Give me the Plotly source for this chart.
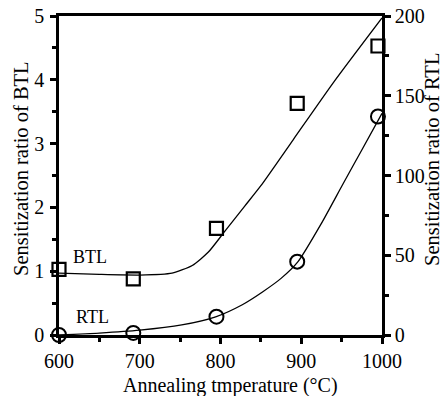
import plotly.graph_objects as go

# Measured data points
temp_btl = [600, 692, 795, 895, 995]
btl = [1.03, 0.88, 1.67, 3.63, 4.53]
temp_rtl = [600, 692, 795, 895, 995]
rtl = [0.0, 1.3, 11.5, 46, 137]

# Fitted curves
curve_btl_t = [600, 650, 700, 740, 765, 785, 805, 830, 850, 890, 940, 1000]
curve_btl_v = [0.97, 0.95, 0.94, 0.97, 1.09, 1.3, 1.62, 2.02, 2.34, 3.06, 3.96, 4.97]
curve_rtl_t = [600, 650, 700, 752, 794, 827, 852, 875, 896, 925, 952, 975, 1000]
curve_rtl_v = [0.0, 1.2, 3.0, 6.3, 11.4, 19, 27, 35.5, 46, 70, 95, 116, 139]

x_ticks = [600, 700, 800, 900, 1000]
y_ticks = [0, 1, 2, 3, 4, 5]
y2_ticks = [0, 50, 100, 150, 200]

FONT = "Liberation Serif"
W, H = 447, 396
ML, MR, MT, MB = 59, 65, 16, 61

fig = go.Figure()
fig.add_trace(go.Scatter(x=curve_btl_t, y=curve_btl_v, mode="lines",
                         line=dict(color="black", width=1.3, shape="spline", smoothing=0.6),
                         showlegend=False, hoverinfo="skip", cliponaxis=False))
fig.add_trace(go.Scatter(x=curve_rtl_t, y=curve_rtl_v, mode="lines", yaxis="y2",
                         line=dict(color="black", width=1.3, shape="spline", smoothing=0.6),
                         showlegend=False, hoverinfo="skip", cliponaxis=False))
fig.add_trace(go.Scatter(x=temp_btl, y=btl, mode="markers",
                         marker=dict(symbol="square-open", size=13, color="black",
                                     line=dict(width=2.2, color="black")),
                         showlegend=False, cliponaxis=False))
fig.add_trace(go.Scatter(x=temp_rtl, y=rtl, mode="markers", yaxis="y2",
                         marker=dict(symbol="circle-open", size=14, color="black",
                                     line=dict(width=2, color="black")),
                         showlegend=False, cliponaxis=False))

axis_common = dict(showgrid=False, zeroline=False, showline=True, linecolor="black",
                   linewidth=2.5, ticks="outside", tickcolor="black", tickwidth=2.5,
                   ticklen=6, tickfont=dict(family=FONT, size=20, color="black"),
                   automargin=False)

def px_x(px):
    return (px - ML) / (W - ML - MR)

def px_y(py):
    return (H - MB - py) / (H - MT - MB)

fig.update_layout(
    width=W, height=H,
    margin=dict(l=ML, r=MR, t=MT, b=MB),
    paper_bgcolor="white", plot_bgcolor="white",
    font=dict(family=FONT, color="black"),
    xaxis=dict(range=[600, 1000], tickvals=x_ticks, ticktext=[str(v) for v in x_ticks],
               mirror=True, ticklabelstandoff=0,
               minor=dict(dtick=50, ticks="outside", ticklen=4, tickwidth=2.5, tickcolor="black"),
               **axis_common),
    yaxis=dict(range=[0, 5], tickvals=y_ticks, ticktext=[str(v) for v in y_ticks],
               minor=dict(dtick=0.5, ticks="outside", ticklen=4, tickwidth=2.5, tickcolor="black"),
               ticklabelstandoff=2,
               **axis_common),
    yaxis2=dict(range=[0, 200], overlaying="y", side="right", tickvals=y2_ticks,
                ticktext=[str(v) for v in y2_ticks],
                minor=dict(dtick=25, ticks="outside", ticklen=4, tickwidth=2.5, tickcolor="black"),
                **axis_common),
    annotations=[
        dict(x=639, y=1.22, xref="x", yref="y", text="BTL", showarrow=False,
             font=dict(family=FONT, size=18, color="black")),
        dict(x=641, y=0.28, xref="x", yref="y", text="RTL", showarrow=False,
             font=dict(family=FONT, size=18, color="black")),
        dict(x=px_x(230), y=px_y(385), xref="paper", yref="paper",
             text="Annealing tmperature (°C)", showarrow=False,
             xanchor="center", yanchor="middle",
             font=dict(family=FONT, size=20, color="black")),
        dict(x=px_x(21), y=px_y(169), xref="paper", yref="paper",
             text="Sensitization ratio of BTL", showarrow=False, textangle=-90,
             xanchor="center", yanchor="middle",
             font=dict(family=FONT, size=20.5, color="black")),
        dict(x=px_x(432), y=px_y(160), xref="paper", yref="paper",
             text="Sensitization ratio of RTL", showarrow=False, textangle=-90,
             xanchor="center", yanchor="middle",
             font=dict(family=FONT, size=20.5, color="black")),
    ],
)

fig.write_html("out.html")
